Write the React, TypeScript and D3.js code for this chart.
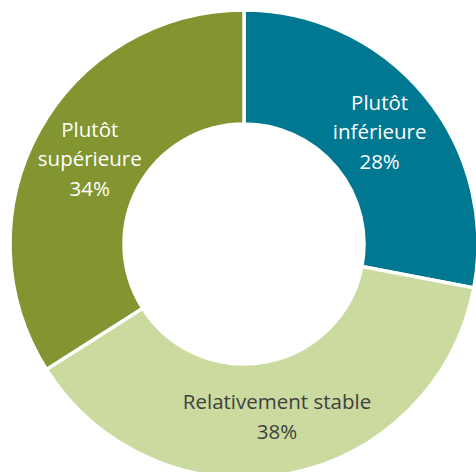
import React, { useEffect, useRef } from 'react';
import * as d3 from 'd3';

const categories = ['Plutôt inférieure', 'Relativement stable', 'Plutôt supérieure'];
const labelLines = [['Plutôt', 'inférieure'], ['Relativement stable'], ['Plutôt', 'supérieure']];
const values = [28, 38, 34];
const colors = ['#007891', '#cbda9e', '#829530'];
const textColors = ['#ffffff', '#404040', '#ffffff'];

const WIDTH = 476;
const HEIGHT = 472;

export default function App() {
  const svgRef = useRef<SVGSVGElement>(null);

  useEffect(() => {
    if (!svgRef.current) return;
    const svg = d3.select(svgRef.current);
    svg.selectAll('*').remove();

    const cx = 244;
    const cy = 244;
    const outerR = 234;
    const innerR = 120;
    const labelR = 176;

    const data = categories.map((c, i) => ({ name: c, value: values[i], i }));

    const pie = d3.pie<typeof data[0]>()
      .value(d => d.value)
      .sort(null);

    const arc = d3.arc<d3.PieArcDatum<typeof data[0]>>()
      .innerRadius(innerR)
      .outerRadius(outerR);

    const labelArc = d3.arc<d3.PieArcDatum<typeof data[0]>>()
      .innerRadius(labelR)
      .outerRadius(labelR);

    const g = svg.append('g').attr('transform', `translate(${cx},${cy})`);
    const arcs = pie(data);

    g.selectAll('path')
      .data(arcs)
      .enter()
      .append('path')
      .attr('d', arc)
      .attr('fill', d => colors[d.data.i])
      .attr('stroke', '#fff')
      .attr('stroke-width', 3.5)
      .attr('stroke-linejoin', 'miter');

    // labels: name lines + percentage
    const lineH = 29.5;
    arcs.forEach(d => {
      const [lx, ly] = labelArc.centroid(d);
      const lines = [...labelLines[d.data.i], `${d.data.value}%`];
      const top = ly - ((lines.length - 1) * lineH) / 2;
      const t = g.append('text')
        .attr('text-anchor', 'middle')
        .style('font-family', '"Open Sans", sans-serif')
        .style('font-size', '20.5px')
        .style('fill', textColors[d.data.i]);
      lines.forEach((line, k) => {
        t.append('tspan')
          .attr('x', lx)
          .attr('y', top + k * lineH)
          .attr('dy', '0.35em')
          .text(line);
      });
    });
  }, []);

  return (
    <svg
      ref={svgRef}
      width={WIDTH}
      height={HEIGHT}
      style={{ position: 'fixed', top: 0, left: 0, background: '#fff' }}
    />
  );
}
